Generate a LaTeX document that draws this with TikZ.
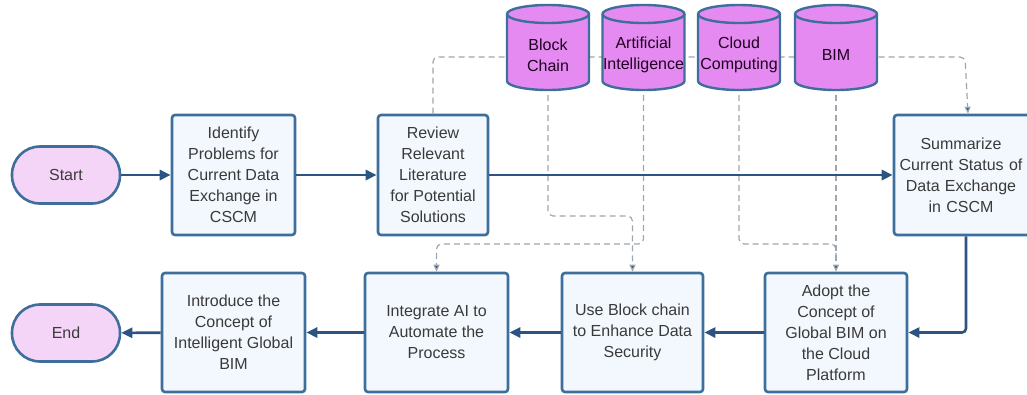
\documentclass[tikz,border=0pt]{standalone}
\usepackage{fontspec}
\setmainfont{Liberation Sans}
\usetikzlibrary{arrows.meta}

\definecolor{edgeblue}{HTML}{3E6F9C}
\definecolor{flowblue}{HTML}{2C5482}
\definecolor{boxfill}{HTML}{F2F8FD}
\definecolor{pillfill}{HTML}{F5D5F7}
\definecolor{cylfill}{HTML}{E48AF1}
\definecolor{txtgray}{HTML}{3A3A3A}
\definecolor{dashgray}{HTML}{9EA6B0}

\begin{document}
\begin{tikzpicture}[x=1pt,y=1pt,
  every node/.style={font=\fontsize{16}{21}\selectfont, text=txtgray, align=center},
  stepbox/.style={draw=edgeblue, line width=2.6pt, fill=boxfill, rounded corners=3pt,
    inner sep=2pt},
  pill/.style={draw=edgeblue, line width=2.6pt, fill=pillfill, rounded corners=28pt,
    minimum width=108pt, minimum height=57pt},
  flow/.style={draw=flowblue, line width=2.6pt, -{Triangle[length=11pt,width=10pt]}},
  link/.style={draw=dashgray, line width=1.2pt, dash pattern=on 6pt off 4pt,
    rounded corners=5pt},
  linkarrow/.style={link, -{Triangle[length=7pt,width=6pt,fill=flowblue]}},
  cylbody/.style={draw=edgeblue, line width=2.4pt, fill=cylfill},
  cylshape/.style={minimum width=82pt, minimum height=85pt, inner sep=0pt},
  cyltext/.style={text=black!75!violet, inner sep=0pt}
]
\useasboundingbox (0,0) rectangle (1027,-394);

% top row
\node[pill] (start) at (66,-175) {Start};
\node[stepbox, minimum width=123pt, minimum height=120pt] (ident) at (233.5,-175)
  {Identify\\Problems for\\Current Data\\Exchange in\\CSCM};
\node[stepbox, minimum width=110pt, minimum height=120pt] (review) at (433,-175)
  {Review\\Relevant\\Literature\\for Potential\\Solutions};
\node[stepbox, minimum width=142pt, minimum height=120pt, text width=136pt] (summ) at (965,-175)
  {\hspace*{-8pt}Summarize\\\hspace*{-8pt}Current Status of\\\hspace*{-8pt}Data Exchange\\\hspace*{-8pt}in CSCM};

% bottom row
\node[pill] (end) at (66,-333) {End};
\node[stepbox, minimum width=143pt, minimum height=119pt] (intro) at (233.5,-332.5)
  {Introduce the\\Concept of\\Intelligent Global\\BIM};
\node[stepbox, minimum width=143pt, minimum height=119pt] (integ) at (436.5,-332.5)
  {Integrate AI to\\Automate the\\Process};
\node[stepbox, minimum width=141pt, minimum height=119pt] (block) at (632.5,-332.5)
  {Use Block chain\\to Enhance Data\\Security};
\node[stepbox, minimum width=142pt, minimum height=119pt] (adopt) at (836,-332.5)
  {Adopt the\\Concept of\\Global BIM on\\the Cloud\\Platform};

% dashed link from the review step over the technologies to the summary
\draw[linkarrow] (review.north) -- (433,-57) -- (965,-57) -- ([xshift=3pt]summ.north);

% technology cylinders
\foreach \cx/\nm/\txt in {548/tbc/{Block\\Chain}, 643.5/tai/{Artificial\\Intelligence},
    739/tcc/{Cloud\\Computing}, 836/tbim/{BIM}} {
  \path[cylbody] (\cx-41,-14) -- (\cx-41,-81)
    arc[start angle=180, end angle=360, x radius=41pt, y radius=9pt]
    -- (\cx+41,-14)
    arc[start angle=0, end angle=180, x radius=41pt, y radius=9pt] -- cycle;
  \draw[edgeblue, line width=2.4pt] (\cx-41,-14)
    arc[start angle=180, end angle=360, x radius=41pt, y radius=9pt];
  \node[cylshape] (\nm) at (\cx,-47.5) {};
  \node[cyltext] at (\cx,-55) {\txt};
}

% dashed links from technologies to the steps that use them
\draw[linkarrow] ([yshift=-5pt]tbc.south) -- (548,-216) -- (632.5,-216) -- (block.north);
\draw[linkarrow] ([yshift=-5pt]tai.south) -- (643.5,-244) -- (436.5,-244) -- (integ.north);
\draw[link] ([yshift=-5pt]tcc.south) -- (739,-244) -- (836,-244) -- (836,-258);
\draw[linkarrow] ([yshift=-5pt]tbim.south) -- (adopt.north);

% main flow
\draw[flow] (start) -- (ident);
\draw[flow] (ident) -- (review);
\draw[flow] (review) -- (summ);
\draw[flow, rounded corners=4pt] ([xshift=1pt]summ.south) |- (adopt.east);
\draw[flow] (adopt) -- (block);
\draw[flow] (block) -- (integ);
\draw[flow] (integ) -- (intro);
\draw[flow] (intro) -- (end);
\end{tikzpicture}
\end{document}
